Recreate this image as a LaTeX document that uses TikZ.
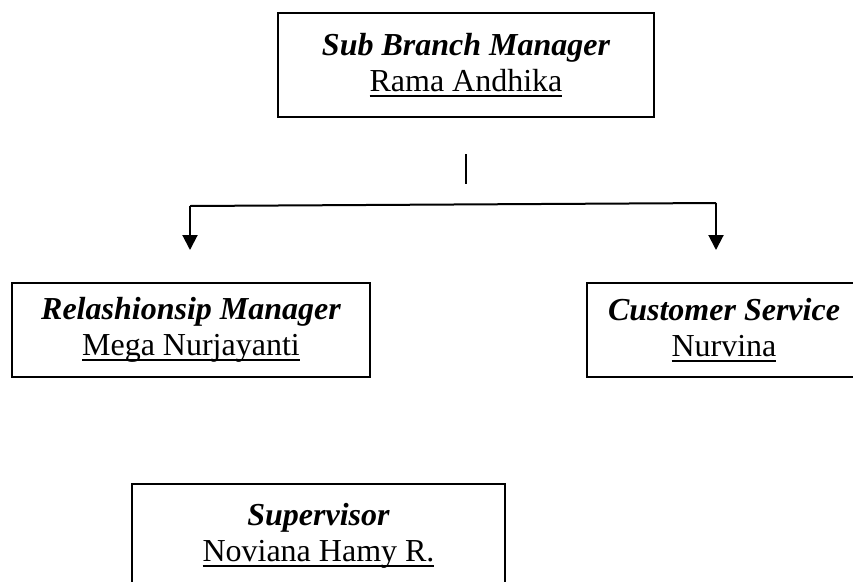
\documentclass[tikz,border=0pt]{standalone}
\usepackage{fontspec}
\setmainfont{Liberation Serif}
\usetikzlibrary{arrows.meta}
\newcommand\ulname[1]{\setbox0\hbox{#1}\rlap{\rule[-5pt]{\wd0}{1.6pt}}\box0}
\tikzset{
  orgbox/.style={draw, line width=1.4pt, rectangle, align=center, inner sep=0pt,
    font=\fontsize{32pt}{36pt}\selectfont},
  conn/.style={line width=2pt},
  arr/.style={line width=2pt, -{Triangle[width=15pt,length=15pt]}}
}
\begin{document}
\begin{tikzpicture}[x=1pt,y=-1pt]
\useasboundingbox (0,0) rectangle (853,581);
\node[orgbox, minimum width=376pt, minimum height=104pt] (sbm) at (466,65)
  {\bfseries\itshape Sub Branch Manager\\\ulname{Rama Andhika}};
\node[orgbox, minimum width=358pt, minimum height=94pt] (rm) at (191,330)
  {\bfseries\itshape Relashionsip Manager\\\ulname{Mega Nurjayanti}};
\node[orgbox, minimum width=274pt, minimum height=94pt] (cs) at (724,330)
  {\bfseries\itshape Customer Service\\\ulname{Nurvina}};
\node[orgbox, minimum width=373pt, minimum height=104pt] (sup) at (318.5,536)
  {\bfseries\itshape Supervisor\\\ulname{Noviana Hamy R.}};
\coordinate (vt) at (466,154);
\coordinate (vb) at (466,184);
\coordinate (hl) at (190,206);
\coordinate (hr) at (716,203);
\coordinate (al) at (190,250);
\coordinate (ar) at (716,250);
\draw[conn] (vt) -- (vb);
\draw[conn] (hl) -- (hr);
\draw[arr] (hl) -- (al);
\draw[arr] (hr) -- (ar);
\end{tikzpicture}
\end{document}
